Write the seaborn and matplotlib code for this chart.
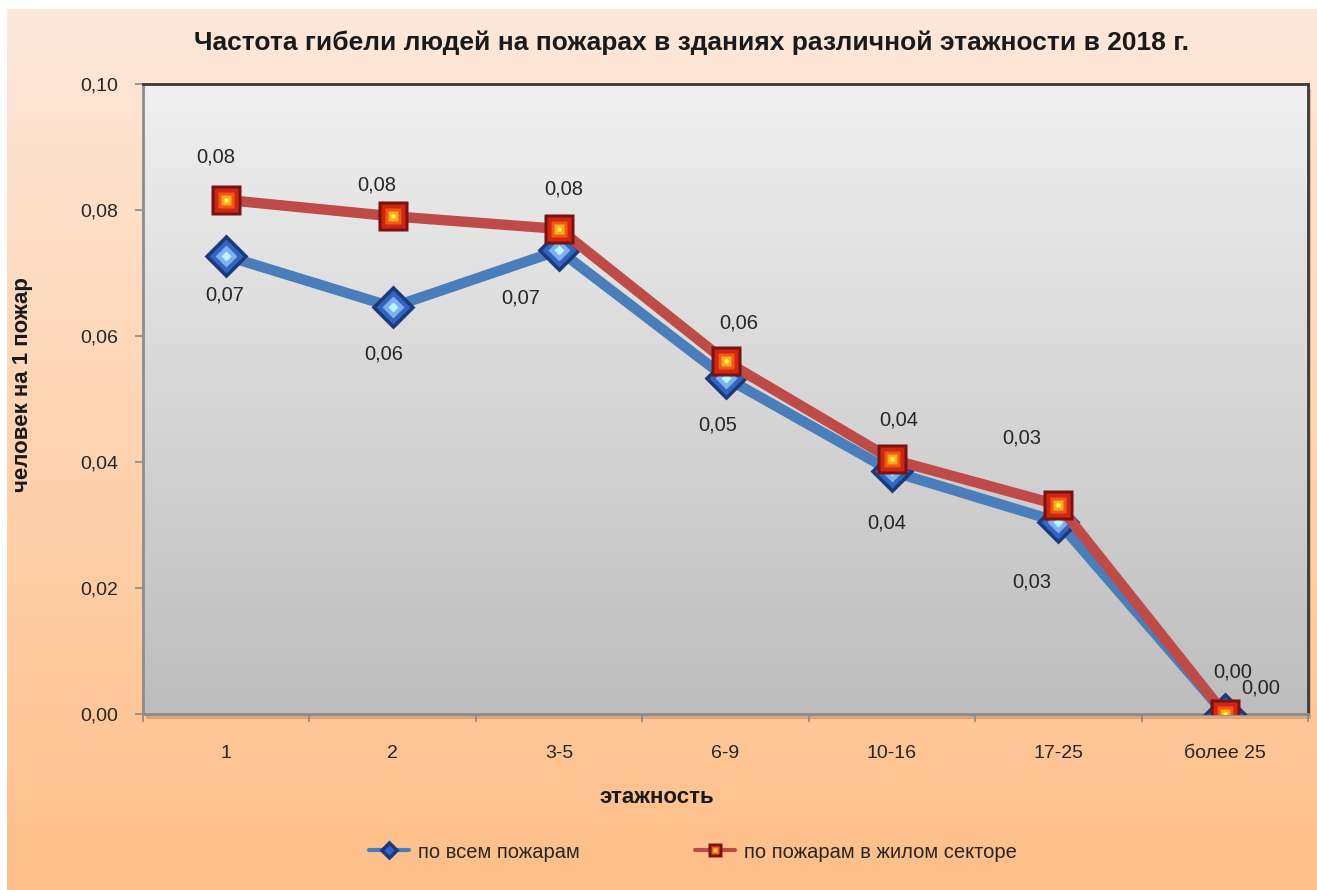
import numpy as np
import pandas as pd
import matplotlib.pyplot as plt
import matplotlib.colors as mcolors
from matplotlib.lines import Line2D
from matplotlib.patches import Rectangle
from matplotlib.legend_handler import HandlerTuple
from matplotlib.ticker import FuncFormatter
import seaborn as sns

# Data
floors = ["1", "2", "3-5", "6-9", "10-16", "17-25", "более 25"]
all_fires = [0.0727, 0.0646, 0.0736, 0.0534, 0.0385, 0.0305, 0.0]
residential = [0.0816, 0.0790, 0.0770, 0.0560, 0.0404, 0.0332, 0.0]
series_names = ["по всем пожарам", "по пожарам в жилом секторе"]

# label offsets in pixels (dx, dy), Excel-like placement
all_offsets = [(-2, -39), (-9, -47), (-38, -48), (-8, -47), (-5, -52), (-27, -60), (8, 42)]
res_offsets = [(-10, 43), (-16, 31), (5, 40), (13, 38), (7, 39), (-37, 67), (36, 26)]

sns.set_style("white")
plt.rcParams["font.family"] = ["Liberation Sans", "DejaVu Sans"]

df = pd.DataFrame({
    "x": list(range(len(floors))) * 2,
    "value": all_fires + residential,
    "series": [series_names[0]] * len(floors) + [series_names[1]] * len(floors),
})

W, H = 1317, 890
fig = plt.figure(figsize=(W / 100, H / 100), dpi=100)
fig.patch.set_facecolor("white")


def vgrad(top, bottom, n=256):
    t = np.linspace(0, 1, n)[:, None]
    c1 = np.array(mcolors.to_rgb(top))
    c2 = np.array(mcolors.to_rgb(bottom))
    return (c1 * (1 - t) + c2 * t)[:, None, :]


# figure background gradient
bg = fig.add_axes([7 / W, 0, 1 - 7 / W, 1 - 9 / H], zorder=-10)
bg.imshow(vgrad("#fde8da", "#ffbf88"), aspect="auto", extent=[0, 1, 0, 1])
bg.axis("off")

ax_rect = [143 / W, 1 - 714 / H, (1308 - 143) / W, (714 - 84) / H]
# soft shadow under the plot area
fig.patches.append(Rectangle((ax_rect[0] + 3 / W, ax_rect[1] - 5 / H), ax_rect[2], ax_rect[3],
                             transform=fig.transFigure, facecolor="#9a6a40",
                             alpha=0.35, edgecolor="none", zorder=-5))
ax = fig.add_axes(ax_rect)
ax.imshow(vgrad("#f0f0f0", "#bdbdbd"), aspect="auto",
          extent=[-0.5, len(floors) - 0.5, 0, 0.1], zorder=0)

# lines
blue_line = "#4a7ebb"
red_line = "#be4b48"
xs = range(len(floors))
sns.lineplot(data=df[df.series == series_names[0]], x="x", y="value",
             color=blue_line, linewidth=7.5, ax=ax, zorder=2, legend=False)
for ms, fc in [(22, "#1c3a7a"), (17, "#3264c4"), (11, "#7fb0ec"), (5, "#b8f6ff")]:
    ax.plot(xs, all_fires, ls="none", marker="D", ms=ms, mfc=fc, mec="none", zorder=3)

sns.lineplot(data=df[df.series == series_names[1]], x="x", y="value",
             color=red_line, linewidth=7.5, ax=ax, zorder=4, legend=False)
for ms, fc in [(21, "#7a1210"), (17, "#d02414"), (12, "#ee5a10"), (7, "#ffa820"), (3, "#ffff50")]:
    ax.plot(xs, residential, ls="none", marker="s", ms=ms, mfc=fc, mec="none", zorder=5)

# data labels
for vals, offs in [(all_fires, all_offsets), (residential, res_offsets)]:
    for i, v in enumerate(vals):
        dx, dy = offs[i]
        ax.annotate(f"{v:.2f}".replace(".", ","), (i, v), xytext=(dx, dy),
                    textcoords="offset pixels", ha="center", va="center",
                    fontsize=14.5, color="#262626", zorder=6)

ax.set_xlim(-0.5, len(floors) - 0.5)
ax.set_ylim(0, 0.1)
ax.set_yticks(np.arange(0, 0.101, 0.02))
ax.yaxis.set_major_formatter(FuncFormatter(lambda v, p: f"{v:.2f}".replace(".", ",")))
ax.set_xticks(np.arange(len(floors) + 1) - 0.5)
ax.set_xticklabels([])
ax.set_xticks(np.arange(len(floors)), minor=True)
ax.set_xticklabels(floors, minor=True)
ax.tick_params(axis="x", which="major", direction="out", length=6, width=1.2,
               color="#8a8a8a", bottom=True)
ax.tick_params(axis="x", which="minor", length=0, pad=22, labelsize=14,
               labelcolor="#262626")
ax.tick_params(axis="y", direction="out", length=6, width=1.2, color="#8a8a8a",
               left=True, labelsize=14, labelcolor="#262626", pad=12)

for s in ["left", "bottom"]:
    ax.spines[s].set_color("#8c8c8c")
    ax.spines[s].set_linewidth(2)
for s in ["top", "right"]:
    ax.spines[s].set_color("#3a3a3a")
    ax.spines[s].set_linewidth(2)

ax.set_xlabel("этажность", fontsize=16, fontweight="bold", color="#1a1a1a")
ax.xaxis.set_label_coords((657 - 143) / 1165, (714 - 787) / 630)
ax.set_ylabel("человек на 1 пожар", fontsize=16, fontweight="bold", color="#1a1a1a")
ax.yaxis.set_label_coords((33 - 143) / 1165, (714 - 385) / 630)

fig.text(691 / W, 1 - 43 / H,
         "Частота гибели людей на пожарах в зданиях различной этажности в 2018 г.",
         ha="center", va="center", fontsize=19, fontweight="bold", color="#1a1a1a")

# legend
h1 = (Line2D([], [], color=blue_line, lw=3, marker="D", ms=10, mfc="#1c3a7a", mec="none"),
      Line2D([], [], ls="none", marker="D", ms=5, mfc="#3264c4", mec="none"))
h2 = (Line2D([], [], color=red_line, lw=3, marker="s", ms=10, mfc="#7a1210", mec="none"),
      Line2D([], [], ls="none", marker="s", ms=6, mfc="#ee5a10", mec="none"),
      Line2D([], [], ls="none", marker="s", ms=3, mfc="#ffe040", mec="none"))
fig.legend([h1, h2], series_names, handler_map={tuple: HandlerTuple(ndivide=1)},
           loc="center", bbox_to_anchor=(0.526, 1 - 852 / H), ncol=2,
           frameon=False, fontsize=14.5, handlelength=2.0, handletextpad=0.45,
           columnspacing=5.7, labelcolor="#262626")

fig.savefig("out.png", dpi=100)
